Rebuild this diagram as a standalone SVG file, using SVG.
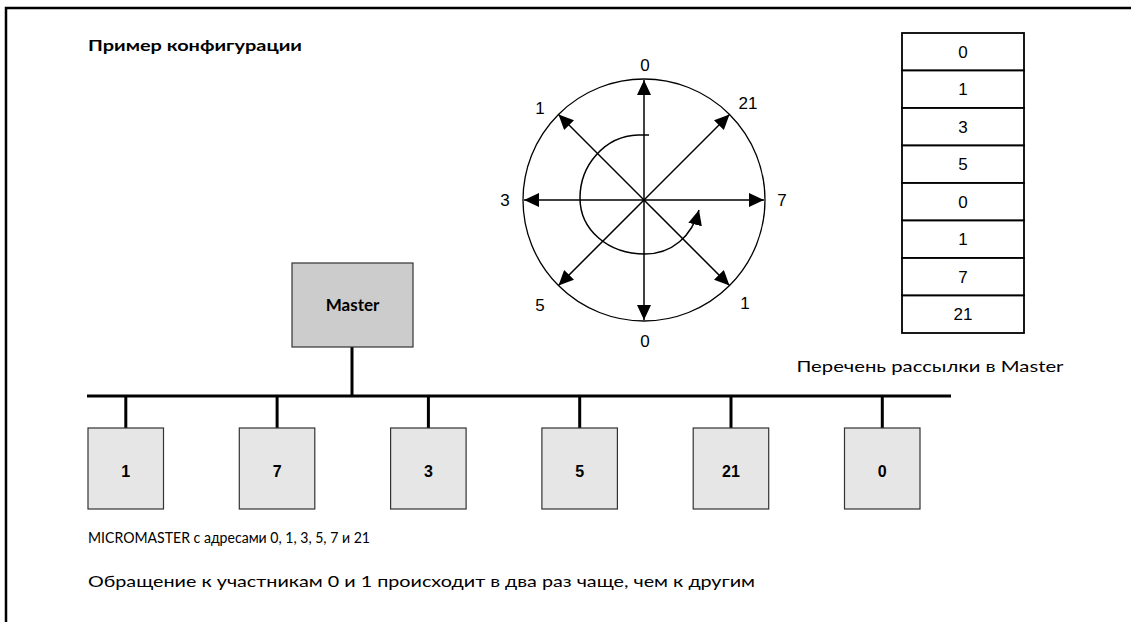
<svg xmlns="http://www.w3.org/2000/svg" width="1131" height="622" viewBox="0 0 1131 622">
<style>
.frame{fill:none;stroke:#000;stroke-width:2.5}
.txt{font-family:Lato,"Liberation Sans",Arial,sans-serif;fill:#000}
.lbl{font-family:"Liberation Sans",Arial,sans-serif;font-size:17px;fill:#000}
.blbl{font-family:"Liberation Sans",Arial,sans-serif;font-size:16px;font-weight:bold;fill:#000}
.slave{fill:#e6e6e6;stroke:#333;stroke-width:1.2}
.master{fill:#cccccc;stroke:#333;stroke-width:1.2}
.bus{stroke:#000;stroke-width:3;fill:none}
.ax{stroke:#000;stroke-width:1.5;fill:none}
.cell{fill:#fff;stroke:#000;stroke-width:1.8}
</style>
<defs>
<marker id="ah" markerUnits="userSpaceOnUse" markerWidth="16" markerHeight="14" refX="15" refY="7" orient="auto">
<path d="M0,0 L15,7 L0,14 Z" fill="#000"/>
</marker>
</defs>
<rect width="1131" height="622" fill="#fff"/>
<path class="frame" d="M6,622 V8 H1131"/>

<text class="txt" x="88" y="51" font-size="16" font-weight="bold" textLength="214" lengthAdjust="spacingAndGlyphs">Пример конфигурации</text>

<g id="circle-diagram">
<circle cx="644" cy="200" r="121" fill="none" stroke="#000" stroke-width="1.3"/>
<line class="ax" x1="644" y1="200" x2="644" y2="80" marker-end="url(#ah)"/>
<line class="ax" x1="644" y1="200" x2="644" y2="320" marker-end="url(#ah)"/>
<line class="ax" x1="644" y1="200" x2="524" y2="200" marker-end="url(#ah)"/>
<line class="ax" x1="644" y1="200" x2="764" y2="200" marker-end="url(#ah)"/>
<line class="ax" x1="644" y1="200" x2="729.5" y2="114.5" marker-end="url(#ah)"/>
<line class="ax" x1="644" y1="200" x2="558.5" y2="114.5" marker-end="url(#ah)"/>
<line class="ax" x1="644" y1="200" x2="558.5" y2="285.5" marker-end="url(#ah)"/>
<line class="ax" x1="644" y1="200" x2="729.5" y2="285.5" marker-end="url(#ah)"/>
<path class="ax" stroke-width="1.2" d="M649,135 L638,135 C605,136 580,165 580,198 C580,230 608,254 645,254 C672,254 692,236 699,210" marker-end="url(#ah)"/>
<text class="lbl" x="645" y="71" text-anchor="middle">0</text>
<text class="lbl" x="748" y="109" text-anchor="middle">21</text>
<text class="lbl" x="540" y="114" text-anchor="middle">1</text>
<text class="lbl" x="505" y="206" text-anchor="middle">3</text>
<text class="lbl" x="782" y="206" text-anchor="middle">7</text>
<text class="lbl" x="540" y="311" text-anchor="middle">5</text>
<text class="lbl" x="745" y="309" text-anchor="middle">1</text>
<text class="lbl" x="645" y="347" text-anchor="middle">0</text>
</g>

<g id="poll-list">
<rect class="cell" x="902" y="33" width="122" height="37.5"/>
<rect class="cell" x="902" y="70.5" width="122" height="37.5"/>
<rect class="cell" x="902" y="108" width="122" height="37.5"/>
<rect class="cell" x="902" y="145.5" width="122" height="37.5"/>
<rect class="cell" x="902" y="183" width="122" height="37.5"/>
<rect class="cell" x="902" y="220.5" width="122" height="37.5"/>
<rect class="cell" x="902" y="258" width="122" height="37.5"/>
<rect class="cell" x="902" y="295.5" width="122" height="37.5"/>
<text class="lbl" x="963" y="58" text-anchor="middle">0</text>
<text class="lbl" x="963" y="95" text-anchor="middle">1</text>
<text class="lbl" x="963" y="133" text-anchor="middle">3</text>
<text class="lbl" x="963" y="170" text-anchor="middle">5</text>
<text class="lbl" x="963" y="208" text-anchor="middle">0</text>
<text class="lbl" x="963" y="245" text-anchor="middle">1</text>
<text class="lbl" x="963" y="283" text-anchor="middle">7</text>
<text class="lbl" x="963" y="320" text-anchor="middle">21</text>
<text class="txt" x="930" y="372" font-size="15" text-anchor="middle" textLength="267" lengthAdjust="spacingAndGlyphs">Перечень рассылки в Master</text>
</g>

<g id="connectors">
<line class="bus" x1="87" y1="396" x2="951" y2="396"/>
<line class="bus" x1="352" y1="347" x2="352" y2="396"/>
<line class="bus" stroke-width="2" x1="125.8" y1="396" x2="125.8" y2="428"/>
<line class="bus" stroke-width="2" x1="277.1" y1="396" x2="277.1" y2="428"/>
<line class="bus" stroke-width="2" x1="428.4" y1="396" x2="428.4" y2="428"/>
<line class="bus" stroke-width="2" x1="579.7" y1="396" x2="579.7" y2="428"/>
<line class="bus" stroke-width="2" x1="731" y1="396" x2="731" y2="428"/>
<line class="bus" stroke-width="2" x1="882.3" y1="396" x2="882.3" y2="428"/>
</g>

<g id="master">
<rect class="master" x="292" y="263" width="121" height="84"/>
<text class="txt" x="352.5" y="311" text-anchor="middle" font-size="17" font-weight="bold">Master</text>
</g>

<g id="slave-1"><rect class="slave" x="88" y="428" width="75.5" height="81"/><text class="blbl" x="125.8" y="477" text-anchor="middle">1</text></g>
<g id="slave-7"><rect class="slave" x="239.3" y="428" width="75.5" height="81"/><text class="blbl" x="277.1" y="477" text-anchor="middle">7</text></g>
<g id="slave-3"><rect class="slave" x="390.6" y="428" width="75.5" height="81"/><text class="blbl" x="428.4" y="477" text-anchor="middle">3</text></g>
<g id="slave-5"><rect class="slave" x="541.9" y="428" width="75.5" height="81"/><text class="blbl" x="579.7" y="477" text-anchor="middle">5</text></g>
<g id="slave-21"><rect class="slave" x="693.2" y="428" width="75.5" height="81"/><text class="blbl" x="731" y="477" text-anchor="middle">21</text></g>
<g id="slave-0"><rect class="slave" x="844.5" y="428" width="75.5" height="81"/><text class="blbl" x="882.3" y="477" text-anchor="middle">0</text></g>

<text class="txt" x="88" y="543" font-size="14.5" textLength="282" lengthAdjust="spacingAndGlyphs">MICROMASTER с адресами 0, 1, 3, 5, 7 и 21</text>
<text class="txt" x="88" y="587" font-size="15" textLength="667" lengthAdjust="spacingAndGlyphs">Обращение к участникам 0 и 1 происходит в два раз чаще, чем к другим</text>
</svg>
